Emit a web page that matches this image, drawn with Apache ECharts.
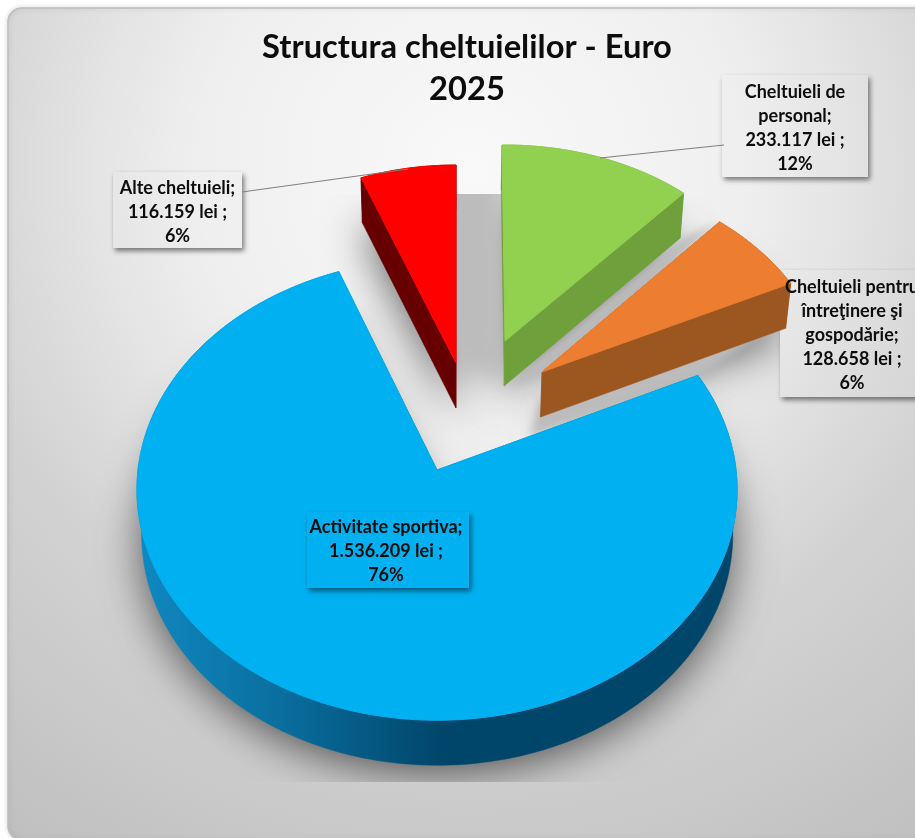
<!DOCTYPE html>
<html>
<head>
<meta charset="utf-8">
<title>Structura cheltuielilor</title>
<script src="https://cdn.jsdelivr.net/npm/echarts@6/dist/echarts.min.js"></script>
<style>
  html, body { margin: 0; padding: 0; background: #fff; }
  #chart { width: 915px; height: 838px; }
</style>
</head>
<body>
<div id="chart"></div>
<script>
// data, clockwise from 12 o'clock
const categories = ['Cheltuieli de\npersonal;', 'Cheltuieli pentru\nîntreţinere şi\ngospodărie;', 'Activitate sportiva;', 'Alte cheltuieli;']
const values = [233117, 128658, 1536209, 116159]

// look of the fake 3d pie
const topColors = ['#92d050', '#ed7d31', '#00b0f0', '#ff0000']
const wallColors = ['#70a03c', '#9c561f', '#004d73', '#660000']
const apexes = [[505, 341], [542, 372], [437, 470], [456, 363]]
const radii = [[272, 196, 0], [287, 216, 0.1], [299, 229, 0.085], [268, 198, 0]] // a, b, perspective
const tilts = [-0.011, 0, 0, 0]
const drawOrder = [1, 2, 1, 1]
const depth = 45
const narrow = 0.985
const vanishX = 450
const shadowDrop = 8
const offscreen = 2000 // shape sits off the canvas, only its blurred shadow lands here

// grey seen through the gaps behind the slices
const gapShadows = [
  { points: [[458, 120], [503, 120], [504, 375], [470, 375], [440, 340], [395, 250]], blur: 22 },
  { points: [[504, 387], [680, 240], [720, 222], [542, 372]], blur: 8 },
  { points: [[539, 400], [780, 320], [703, 376], [530, 437]], blur: 8 }
]

// label boxes and leader lines
const boxes = [[722, 75, 146, 102], [780, 270, 146, 127], [307, 512, 162, 76], [113, 172, 129, 76]]
const boxZ = [5, 1, 5, 5]
const textShift = [[0, 2], [-1, 2], [-2, 1], [0, 2]]
const leaders = [[[724, 145], [600, 158]], null, null, [[242, 192], [408, 169]]]

const total = values.reduce((s, v) => s + v, 0)
const thousands = v => String(v).replace(/\B(?=(\d{3})+$)/g, '.')

const backgroundFill = {
  type: 'radial', x: 470, y: 170, r: 800, global: true,
  colorStops: [
    { offset: 0, color: '#f9f9f9' },
    { offset: 0.34, color: '#efefef' },
    { offset: 0.47, color: '#e4e4e4' },
    { offset: 0.55, color: '#dcdcdc' },
    { offset: 0.66, color: '#d2d2d2' },
    { offset: 0.8, color: '#cbcbcb' },
    { offset: 1, color: '#c0c0c0' }
  ]
}

function angleRange(i) {
  let start = 0
  for (let k = 0; k < i; k++) start += values[k]
  return [start / total * Math.PI * 2 + tilts[i], (start + values[i]) / total * Math.PI * 2 + tilts[i]]
}

function project(i, t) {
  const [a, b, k] = radii[i]
  const w = 1 + k * Math.cos(t)
  return [apexes[i][0] + a * Math.sin(t) / w, apexes[i][1] - b * Math.cos(t) / w]
}

function lower(p) {
  return [vanishX + (p[0] - vanishX) * narrow, p[1] + depth]
}

function arcPoints(i) {
  const [s, e] = angleRange(i)
  const n = Math.ceil((e - s) * 40)
  const pts = []
  for (let j = 0; j <= n; j++) pts.push(project(i, s + (e - s) * j / n))
  return pts
}

function wallFill(i) {
  if (i !== 2) return wallColors[i]
  return {
    type: 'linear', x: 140, y: 0, x2: 445, y2: 0, global: true,
    colorStops: [
      { offset: 0, color: '#1088c0' },
      { offset: 0.45, color: '#0a6f9f' },
      { offset: 1, color: '#00456a' }
    ]
  }
}

const shadowClip = { type: 'rect', shape: { x: 0, y: 194, width: 915, height: 588 } }

const shadowOnly = (points, blur, color) => ({
  type: 'polygon',
  shape: { points: points.map(p => [p[0] - offscreen, p[1]]) },
  clipPath: shadowClip,
  style: { fill: '#000', shadowBlur: blur, shadowOffsetX: offscreen, shadowColor: color }
})

const renderShadow = (params) => {
  const i = params.dataIndex
  const outline = [apexes[i]].concat(arcPoints(i)).map(lower).map(p => [p[0], p[1] + shadowDrop])
  const children = [shadowOnly(outline, 44, 'rgba(0,0,0,0.6)')]
  if (i === 3) {
    gapShadows.forEach(g => children.push(shadowOnly(g.points, g.blur, '#bcbcbc')))
  }
  return { type: 'group', children }
}

const renderSlice = (params) => {
  const i = params.dataIndex
  const arc = arcPoints(i)
  const apex = apexes[i]
  const z = drawOrder[i]
  const fill = wallFill(i)
  const first = arc[0]
  const last = arc[arc.length - 1]
  const wall = (points) => ({ type: 'polygon', z2: z, shape: { points }, style: { fill, stroke: fill, lineWidth: 0.5 } })
  return {
    type: 'group',
    children: [
      wall(arc.concat(arc.map(lower).reverse())),
      wall([apex, first, lower(first), lower(apex)]),
      wall([apex, last, lower(last), lower(apex)]),
      {
        type: 'polygon', z2: z + 1, shape: { points: [apex].concat(arc) },
        style: { fill: topColors[i], stroke: topColors[i], lineWidth: 1 }
      }
    ]
  }
}

const renderLabel = (params) => {
  const i = params.dataIndex
  const [x, y, w, h] = boxes[i]
  const text = categories[i] + '\n' + thousands(values[i]) + ' lei ;\n' + Math.round(values[i] / total * 100) + '%'
  const children = [
    {
      type: 'rect', z2: boxZ[i], shape: { x, y, width: w, height: h },
      style: {
        fill: i === 2 ? topColors[2] : backgroundFill,
        shadowBlur: 5, shadowOffsetX: 2, shadowOffsetY: 3, shadowColor: 'rgba(0,0,0,0.5)'
      }
    },
    {
      type: 'text', z2: 20,
      style: {
        text, x: x + w / 2 + textShift[i][0], y: y + h / 2 + textShift[i][1], align: 'center', verticalAlign: 'middle',
        font: 'bold 18px Lato', lineHeight: 24, fill: '#0d0d0d'
      }
    }
  ]
  if (leaders[i]) {
    children.push({
      type: 'polyline', z2: 6, shape: { points: leaders[i] },
      style: { fill: 'none', stroke: '#7f7f7f', lineWidth: 1 }
    })
  }
  return { type: 'group', children }
}

const chart = echarts.init(document.getElementById('chart'))
chart.setOption({
  animation: false,
  title: {
    text: 'Structura cheltuielilor - Euro\n2025',
    left: 462, top: 21, textAlign: 'center',
    textStyle: { fontFamily: 'Lato', fontWeight: 'bold', fontSize: 32.7, lineHeight: 42, color: '#0d0d0d' }
  },
  graphic: [{
    type: 'rect', z: -1,
    shape: { x: 8, y: 8, width: 960, height: 832, r: 14 },
    style: {
      fill: backgroundFill,
      stroke: '#bdbdbd', lineWidth: 1.5,
      shadowBlur: 5, shadowColor: 'rgba(0,0,0,0.15)'
    }
  }],
  series: [
    { type: 'custom', coordinateSystem: 'none', z: 1, silent: true, data: values, renderItem: renderShadow },
    { type: 'custom', coordinateSystem: 'none', z: 2, silent: true, data: values, renderItem: renderSlice },
    { type: 'custom', coordinateSystem: 'none', z: 2, silent: true, data: values, renderItem: renderLabel }
  ]
})
</script>
</body>
</html>
